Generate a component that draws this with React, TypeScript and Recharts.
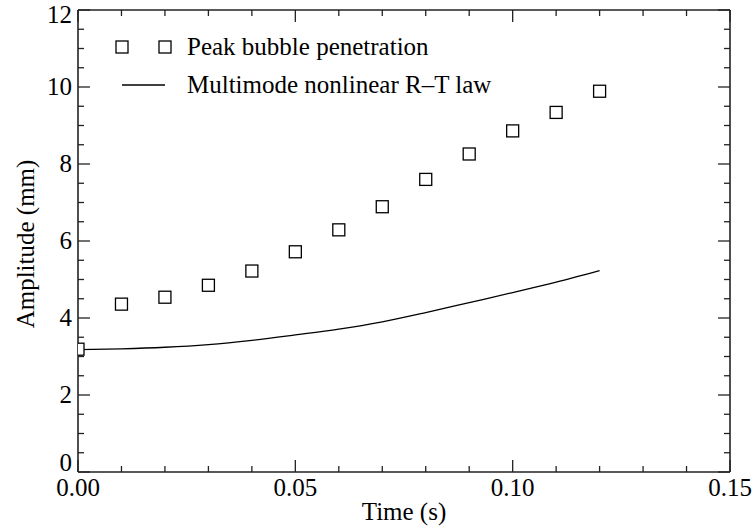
import {
  ComposedChart,
  Line,
  Scatter,
  XAxis,
  YAxis,
} from "recharts";

// peak bubble penetration (squares)
const peakTime = [0, 0.01, 0.02, 0.03, 0.04, 0.05, 0.06, 0.07, 0.08, 0.09, 0.1, 0.11, 0.12];
const peakAmp = [3.19, 4.36, 4.54, 4.85, 5.22, 5.72, 6.29, 6.89, 7.6, 8.26, 8.86, 9.34, 9.89];

// multimode nonlinear R-T law (curve)
const lawTime = [0, 0.01, 0.02, 0.03, 0.04, 0.05, 0.06, 0.07, 0.08, 0.09, 0.1, 0.11, 0.12];
const lawAmp = [3.18, 3.2, 3.24, 3.31, 3.42, 3.56, 3.71, 3.9, 4.14, 4.4, 4.66, 4.93, 5.23];

const xTicks = [0, 0.01, 0.02, 0.03, 0.04, 0.05, 0.06, 0.07, 0.08, 0.09, 0.1, 0.11, 0.12, 0.13, 0.14, 0.15];
const yTicks = [0, 0.5, 1, 1.5, 2, 2.5, 3, 3.5, 4, 4.5, 5, 5.5, 6, 6.5, 7, 7.5, 8, 8.5, 9, 9.5, 10, 10.5, 11, 11.5, 12];

const peakData = peakTime.map((t, i) => ({ t, amp: peakAmp[i] }));
const lawData = lawTime.map((t, i) => ({ t, amp: lawAmp[i] }));

const FONT = "'Liberation Serif', 'Times New Roman', serif";
const FS = 25;
const AXIS = "#222";

const isMajorX = (v: number) => Math.round(v * 100) % 5 === 0;
const isMajorY = (v: number) => v % 2 === 0;

const BottomTick = ({ x, y, payload }: any) => {
  const major = isMajorX(payload.value);
  return (
    <g>
      <line x1={x} x2={x} y1={y} y2={y - (major ? 12 : 6)} stroke={AXIS} strokeWidth={1.3} />
      {major && (
        <text x={x} y={y + 24} textAnchor="middle" fontFamily={FONT} fontSize={FS} fill="#000">
          {payload.value.toFixed(2)}
        </text>
      )}
    </g>
  );
};

const TopTick = ({ x, y, payload }: any) => {
  const major = isMajorX(payload.value);
  return <line x1={x} x2={x} y1={y} y2={y + (major ? 12 : 6)} stroke={AXIS} strokeWidth={1.3} />;
};

const LeftTick = ({ x, y, payload }: any) => {
  const v = payload.value;
  const major = isMajorY(v);
  // keep the end labels inside the frame
  let base = y + 8;
  if (v === 12) base = y + 13;
  if (v === 0) base = y - 1;
  return (
    <g>
      <line x1={x} x2={x + (major ? 12 : 6)} y1={y} y2={y} stroke={AXIS} strokeWidth={1.3} />
      {major && (
        <text x={x - 6} y={base} textAnchor="end" fontFamily={FONT} fontSize={FS} fill="#000">
          {v}
        </text>
      )}
    </g>
  );
};

const RightTick = ({ x, y, payload }: any) => {
  const major = isMajorY(payload.value);
  return <line x1={x} x2={x - (major ? 12 : 6)} y1={y} y2={y} stroke={AXIS} strokeWidth={1.3} />;
};

const Square = ({ cx, cy }: any) => (
  <rect
    x={cx - 6}
    y={cy - 6}
    width={12}
    height={12}
    fill="#fff"
    stroke="#000"
    strokeWidth={1.3}
    clipPath="url(#plotArea)"
  />
);

export default function App() {
  return (
    <div style={{ position: "absolute", left: 0, top: 0, width: 752, height: 527, background: "#fff" }}>
      <svg width={0} height={0} style={{ position: "absolute" }}>
        <defs>
          <clipPath id="plotArea" clipPathUnits="userSpaceOnUse">
            <rect x={78} y={10} width={652} height={462} />
          </clipPath>
        </defs>
      </svg>
      <ComposedChart width={752} height={527} margin={{ top: 9, right: 21, left: 0, bottom: 0 }}>
        <XAxis
          xAxisId="bottom"
          dataKey="t"
          type="number"
          domain={[0, 0.15]}
          ticks={xTicks}
          interval={0}
          height={55}
          tickSize={0}
          tickMargin={0}
          tick={<BottomTick />}
          axisLine={{ stroke: AXIS, strokeWidth: 1.6 }}
          allowDataOverflow
        />
        <XAxis
          xAxisId="top"
          orientation="top"
          dataKey="t"
          type="number"
          domain={[0, 0.15]}
          ticks={xTicks}
          interval={0}
          height={1}
          tickSize={0}
          tickMargin={0}
          tick={<TopTick />}
          axisLine={{ stroke: AXIS, strokeWidth: 1.6 }}
          allowDataOverflow
        />
        <YAxis
          yAxisId="left"
          type="number"
          domain={[0, 12]}
          ticks={yTicks}
          interval={0}
          width={78}
          tickSize={0}
          tickMargin={0}
          tick={<LeftTick />}
          axisLine={{ stroke: AXIS, strokeWidth: 1.6 }}
          allowDataOverflow
        />
        <YAxis
          yAxisId="right"
          orientation="right"
          type="number"
          domain={[0, 12]}
          ticks={yTicks}
          interval={0}
          width={1}
          tickSize={0}
          tickMargin={0}
          tick={<RightTick />}
          axisLine={{ stroke: AXIS, strokeWidth: 1.6 }}
          allowDataOverflow
        />
        {/* invisible twin so the top/right frame axes get drawn */}
        <Line
          xAxisId="top"
          yAxisId="right"
          data={lawData}
          dataKey="amp"
          stroke="none"
          dot={false}
          activeDot={false}
          isAnimationActive={false}
        />
        <Line
          xAxisId="bottom"
          yAxisId="left"
          data={lawData}
          dataKey="amp"
          type="monotone"
          stroke="#000"
          strokeWidth={1.3}
          dot={false}
          isAnimationActive={false}
        />
        <Scatter
          xAxisId="bottom"
          yAxisId="left"
          data={peakData}
          dataKey="amp"
          shape={<Square />}
          isAnimationActive={false}
        />
      </ComposedChart>
      <svg
        width={752}
        height={527}
        style={{ position: "absolute", left: 0, top: 0, pointerEvents: "none" }}
        fontFamily={FONT}
        fontSize={FS}
      >
        <rect x={116} y={41} width={12} height={12} fill="#fff" stroke="#000" strokeWidth={1.3} />
        <rect x={159} y={41} width={12} height={12} fill="#fff" stroke="#000" strokeWidth={1.3} />
        <text x={187} y={55} fill="#000">Peak bubble penetration</text>
        <line x1={122} x2={165} y1={85} y2={85} stroke="#000" strokeWidth={1.3} />
        <text x={187} y={93} fill="#000">Multimode nonlinear R–T law</text>
        <text x={404} y={520} textAnchor="middle" fill="#000">Time (s)</text>
        <text x={0} y={0} transform="translate(34,244) rotate(-90)" textAnchor="middle" fill="#000">
          Amplitude (mm)
        </text>
      </svg>
    </div>
  );
}
